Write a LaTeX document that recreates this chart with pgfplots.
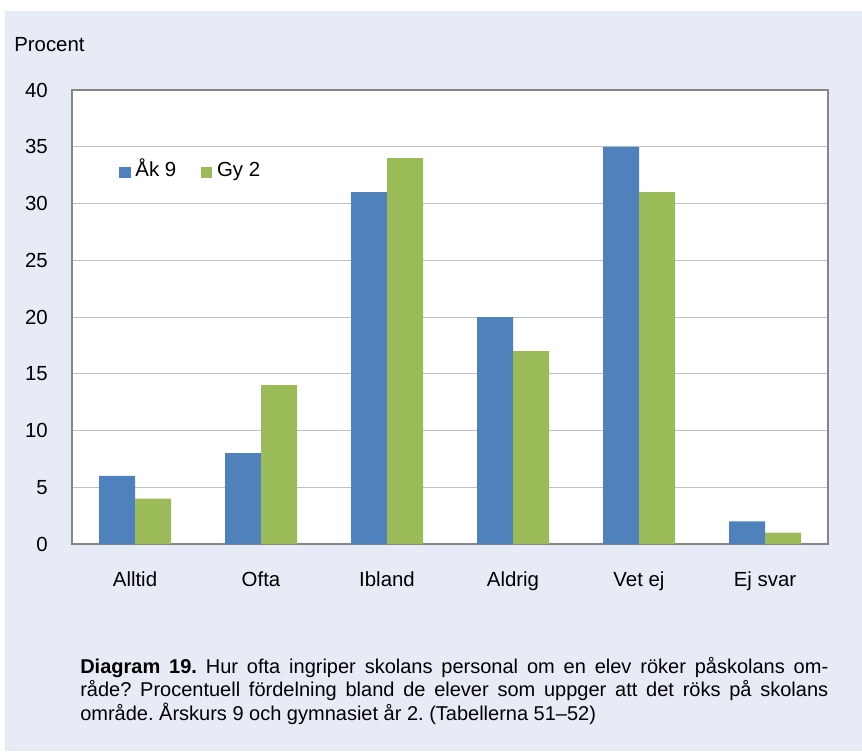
\documentclass[border=0pt]{standalone}
\usepackage{fontspec}
\setmainfont{Liberation Sans}
\usepackage{pgfplots}
\pgfplotsset{compat=1.18}
\definecolor{panel}{HTML}{E7EBF6}
\definecolor{cblue}{HTML}{4F81BD}
\definecolor{cgreen}{HTML}{9BBB59}
\definecolor{frame}{HTML}{868686}
\definecolor{gridc}{HTML}{C0C0C0}
\frenchspacing
\begin{document}
\begin{tikzpicture}
\fill[white] (0pt,0pt) rectangle (646.5pt,-563.25pt);
\useasboundingbox (0pt,0pt) rectangle (646.5pt,-563.25pt);
\fill[panel] (3.75pt,-8.25pt) rectangle (646.5pt,-563.25pt);
\node[anchor=base west, inner sep=0, font=\fontsize{15.3}{18}\selectfont] at (10.5pt,-38.25pt) {Procent};
\begin{axis}[
  at={(54pt,-408pt)}, anchor=south west,
  scale only axis, width=567pt, height=340.5pt,
  axis background/.style={fill=white},
  ybar, bar width=27pt,
  xmin=-0.5, xmax=5.5, ymin=0, ymax=40,
  xtick={0,1,2,3,4,5},
  xticklabels={Alltid,Ofta,Ibland,Aldrig,Vet ej,Ej svar},
  ytick={0,5,...,40},
  major tick length=0pt,
  ymajorgrids, grid style={gridc, line width=0.75pt},
  axis line style={frame, line width=1.1pt},
  /pgf/number format/assume math mode=true,
  tick label style={font=\fontsize{15.3}{18}\selectfont, black},
  yticklabel style={inner sep=0pt, anchor=east, xshift=-18pt},
  xticklabel style={inner sep=0pt, anchor=north, yshift=-20.5pt},
  legend style={at={(0.0622,0.8205)}, anchor=west, draw=none, fill=none,
    inner sep=0pt, font=\fontsize{15.3}{18}\selectfont,
    nodes={inner sep=0pt, text height=11pt, text depth=3pt}, column sep=3.5pt},
  legend columns=2,
  legend image code/.code={\fill[#1] (0pt,-5pt) rectangle (8.6pt,3.6pt);},
  /tikz/column 2/.style={column sep=18.5pt},
]
\addplot[fill=cblue, draw=none, bar shift=-13.5pt] coordinates {(0,6) (1,8) (2,31) (3,20) (4,35) (5,2)};
\addplot[fill=cgreen, draw=none, bar shift=13.5pt] coordinates {(0,4) (1,14) (2,34) (3,17) (4,31) (5,1)};
\legend{Åk 9, Gy 2}
\end{axis}
\begin{scope}[every node/.style={anchor=base west, inner sep=0, font=\fontsize{15}{18}\selectfont}]
\node at (60pt,-504.75pt) {\makebox[561pt][s]{\textbf{Diagram 19.} Hur ofta ingriper skolans personal om en elev röker påskolans om-}};
\node at (60pt,-522.4pt) {\makebox[561pt][s]{råde? Procentuell fördelning bland de elever som uppger att det röks på skolans}};
\node at (60pt,-540pt) {område. Årskurs 9 och gymnasiet år 2. (Tabellerna 51–52)};
\end{scope}
\end{tikzpicture}
\end{document}
